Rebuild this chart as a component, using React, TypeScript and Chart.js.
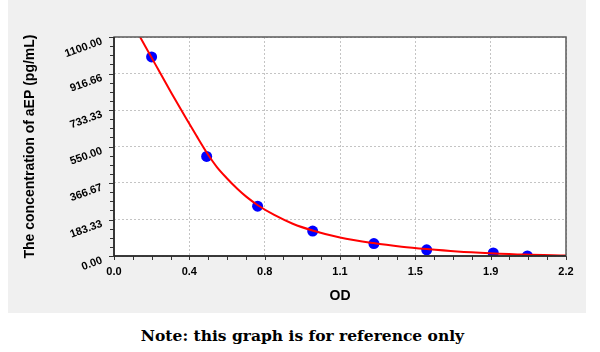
import React, { useEffect, useRef } from 'react';
import { Chart, registerables } from 'chart.js';

Chart.register(...registerables);

// Standard points (OD vs concentration)
const odValues = [0.183, 0.451, 0.699, 0.967, 1.265, 1.522, 1.846, 2.012];
const concValues = [1000, 500, 250, 125, 62.5, 31.25, 15.63, 0];

// Fitted curve
const curveOD = [0.127, 0.2, 0.28, 0.35, 0.4, 0.451, 0.5, 0.548, 0.6, 0.645, 0.7, 0.78, 0.87, 0.97, 1.1, 1.262, 1.4, 1.522, 1.67, 1.83, 2.0, 2.2];
const curveConc = [1100, 965, 818, 693, 606, 520, 448, 392, 338, 297, 255, 206, 162, 127, 93, 65, 47, 35, 23, 14, 7, 3];

// Axis ticks
const xTickValues = [0, 0.3667, 0.7333, 1.1, 1.4667, 1.8333, 2.2];
const xTickLabels = ['0.0', '0.4', '0.8', '1.1', '1.5', '1.9', '2.2'];
const yTickValues = [0, 183.33, 366.67, 550, 733.33, 916.66, 1100];
const yTickLabels = ['0.00', '183.33', '366.67', '550.00', '733.33', '916.66', '1100.00'];

const xTitle = 'OD';
const yTitle = 'The concentration of aEP (pg/mL)';
const noteText = 'Note: this graph is for reference only';

const MINOR_DIV = 4;

const framePlugin = {
  id: 'frame',
  beforeDraw(chart: any) {
    const { ctx, chartArea } = chart;
    const { left, top, right, bottom } = chartArea;
    ctx.save();
    ctx.fillStyle = '#ffffff';
    ctx.fillRect(left, top, right - left, bottom - top);
    ctx.restore();
  },
  afterDraw(chart: any) {
    const { ctx, chartArea, scales } = chart;
    const { left, top, right, bottom } = chartArea;
    const xs = scales.x;
    const ys = scales.y;
    ctx.save();
    ctx.strokeStyle = '#333333';
    ctx.lineWidth = 1;
    ctx.beginPath();
    for (let i = 0; i < xTickValues.length; i++) {
      const v = xTickValues[i];
      const px = Math.round(xs.getPixelForValue(v)) + 0.5;
      ctx.moveTo(px, bottom);
      ctx.lineTo(px, bottom + 4);
      if (i < xTickValues.length - 1) {
        const step = (xTickValues[i + 1] - v) / MINOR_DIV;
        for (let k = 1; k < MINOR_DIV; k++) {
          const mx = Math.round(xs.getPixelForValue(v + step * k)) + 0.5;
          ctx.moveTo(mx, bottom);
          ctx.lineTo(mx, bottom + 4);
        }
      }
    }
    for (let i = 0; i < yTickValues.length; i++) {
      const v = yTickValues[i];
      const py = Math.round(ys.getPixelForValue(v)) + 0.5;
      ctx.moveTo(left, py);
      ctx.lineTo(left - 5, py);
      if (i < yTickValues.length - 1) {
        const step = (yTickValues[i + 1] - v) / MINOR_DIV;
        for (let k = 1; k < MINOR_DIV; k++) {
          const my = Math.round(ys.getPixelForValue(v + step * k)) + 0.5;
          ctx.moveTo(left, my);
          ctx.lineTo(left - 4, my);
        }
      }
    }
    ctx.stroke();
    ctx.lineWidth = 1.5;
    ctx.strokeStyle = '#5a5a5a';
    ctx.strokeRect(left, top, right - left, bottom - top);
    ctx.strokeStyle = '#222222';
    ctx.beginPath();
    ctx.moveTo(left, top);
    ctx.lineTo(left, bottom);
    ctx.lineTo(right, bottom);
    ctx.stroke();
    ctx.restore();
  },
};

export default function App() {
  const canvasRef = useRef<HTMLCanvasElement | null>(null);

  useEffect(() => {
    const canvas = canvasRef.current;
    if (!canvas) return;
    const tickFont = { family: "'Liberation Sans', Arial, sans-serif", size: 11, weight: 'bold' as const };
    const chart = new Chart(canvas, {
      type: 'scatter',
      data: {
        datasets: [
          {
            label: 'curve',
            data: curveOD.map((x, i) => ({ x, y: curveConc[i] })),
            showLine: true,
            borderColor: '#ff0000',
            borderWidth: 2,
            pointRadius: 0,
            cubicInterpolationMode: 'monotone',
            order: 0,
          } as any,
          {
            label: 'standards',
            data: odValues.map((x, i) => ({ x, y: concValues[i] })),
            showLine: false,
            backgroundColor: '#0000ff',
            borderColor: '#0000ff',
            pointRadius: 5.5,
            pointBorderWidth: 0,
            order: 1,
          } as any,
        ],
      },
      options: {
        animation: false,
        responsive: false,
        maintainAspectRatio: false,
        events: [],
        layout: { padding: { left: 0, top: 37, right: 20, bottom: 0 } },
        plugins: {
          legend: { display: false },
          tooltip: { enabled: false },
          title: { display: false },
        },
        scales: {
          x: {
            type: 'linear',
            min: 0,
            max: 2.2,
            afterBuildTicks: (scale: any) => {
              scale.ticks = xTickValues.map((v) => ({ value: v }));
            },
            afterFit: (scale: any) => {
              scale.height = 57;
            },
            ticks: {
              autoSkip: false,
              maxRotation: 0,
              minRotation: 0,
              padding: 9,
              color: '#000000',
              font: tickFont,
              callback: (_v: any, i: number) => xTickLabels[i],
            },
            grid: {
              color: '#c4c4c4',
              lineWidth: 1,
              drawTicks: false,
            },
            border: { display: false, dash: [2, 2] },
            title: {
              display: true,
              text: xTitle,
              color: '#000000',
              font: { family: "'Liberation Sans', Arial, sans-serif", size: 14, weight: 'bold' },
              padding: { top: 0, bottom: 8 },
            },
          },
          y: {
            type: 'linear',
            min: 0,
            max: 1100,
            afterBuildTicks: (scale: any) => {
              scale.ticks = yTickValues.map((v) => ({ value: v }));
            },
            afterFit: (scale: any) => {
              scale.width = 106;
            },
            ticks: {
              autoSkip: false,
              minRotation: 20,
              maxRotation: 20,
              padding: 12,
              labelOffset: 4,
              color: '#000000',
              font: tickFont,
              callback: (_v: any, i: number) => yTickLabels[i],
            },
            grid: {
              color: '#c4c4c4',
              lineWidth: 1,
              drawTicks: false,
            },
            border: { display: false, dash: [2, 2] },
            title: {
              display: true,
              text: yTitle,
              color: '#000000',
              font: { family: "'Liberation Sans', Arial, sans-serif", size: 14, weight: 'bold' },
              padding: { top: 14, bottom: 0 },
            },
          },
        },
      },
      plugins: [framePlugin],
    });
    return () => chart.destroy();
  }, []);

  return (
    <div style={{ position: 'fixed', left: 0, top: 0, width: 600, height: 352, background: '#ffffff', overflow: 'hidden' }}>
      <div style={{ position: 'absolute', left: 8, top: 0, width: 578, height: 313, background: '#f0f0f0' }}>
        <canvas ref={canvasRef} width={578} height={313} style={{ display: 'block', width: 578, height: 313 }} />
      </div>
      <div
        style={{
          position: 'absolute',
          left: 0,
          top: 326,
          width: 605,
          textAlign: 'center',
          fontFamily: "'DejaVu Serif', 'Liberation Serif', serif",
          fontWeight: 'bold',
          fontSize: 15.5,
          lineHeight: '20px',
          color: '#000000',
          whiteSpace: 'nowrap',
        }}
      >
        {noteText}
      </div>
    </div>
  );
}
